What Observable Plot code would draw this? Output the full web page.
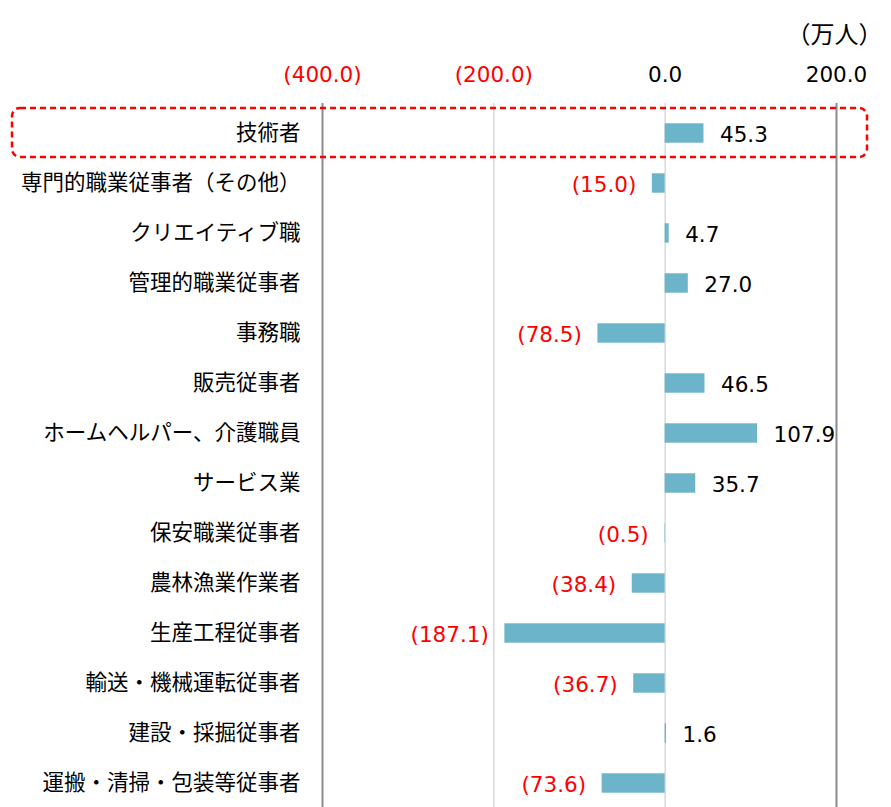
<!DOCTYPE html>
<html>
<head>
<meta charset="utf-8">
<script src="https://cdn.jsdelivr.net/npm/d3@7"></script>
<script src="https://cdn.jsdelivr.net/npm/@observablehq/plot@0.6"></script>
<style>
  html, body { margin: 0; padding: 0; background: #fff; overflow: hidden; }
  #chart svg { display: block; }
</style>
</head>
<body>
<div id="chart"></div>
<script>
const categories = [
  "技術者",
  "専門的職業従事者（その他）",
  "クリエイティブ職",
  "管理的職業従事者",
  "事務職",
  "販売従事者",
  "ホームヘルパー、介護職員",
  "サービス業",
  "保安職業従事者",
  "農林漁業作業者",
  "生産工程従事者",
  "輸送・機械運転従事者",
  "建設・採掘従事者",
  "運搬・清掃・包装等従事者"
];
const values = [45.3, -15.0, 4.7, 27.0, -78.5, 46.5, 107.9, 35.7, -0.5, -38.4, -187.1, -36.7, 1.6, -73.6];
const tickValues = [-400, -200, 0, 200];
const unitLabel = "（万人）";
const highlighted = "技術者";

const data = categories.map((c, i) => ({cat: c, value: values[i]}));
const fmt = v => v < 0 ? `(${d3.format(".1f")(-v)})` : d3.format(".1f")(v);
const numFont = "DejaVu Sans, Verdana, sans-serif";
const jpFont = "Noto Sans CJK JP, sans-serif";

const chart = Plot.plot({
  width: 891,
  height: 807,
  marginLeft: 322,
  marginRight: 55,
  marginTop: 103,
  marginBottom: 0,
  x: {domain: [-400, 200], axis: null},
  y: {domain: categories, padding: 0, axis: null, range: [103, 812.8]},
  marks: [
    Plot.ruleX(tickValues.filter(d => d === -200 || d === 0), {stroke: "#d9d9d9", strokeWidth: 1.5}),
    Plot.ruleX(tickValues.filter(d => d === -400 || d === 200), {stroke: "#8c8c8c", strokeWidth: 2}),
    Plot.barX(data, {x: "value", y: "cat", fill: "#6bb4c9", insetTop: 15.3, insetBottom: 15.3}),
    Plot.text(data.filter(d => d.value >= 0), {x: "value", y: "cat", text: d => fmt(d.value), textAnchor: "start", dx: 16, dy: 2, fill: "#000", fontSize: 21.5, fontFamily: numFont}),
    Plot.text(data.filter(d => d.value < 0), {x: "value", y: "cat", text: d => fmt(d.value), textAnchor: "end", dx: -16, dy: 2, fill: "#ff0000", fontSize: 21.5, fontFamily: numFont}),
    Plot.text(categories, {x: -400, y: d => d, text: d => d, textAnchor: "end", dx: -22, fill: "#000", fontSize: 21.5, fontFamily: jpFont}),
    Plot.text(tickValues, {x: d => d, frameAnchor: "top", lineAnchor: "middle", dy: -28, text: d => fmt(d), fill: d => d < 0 ? "#ff0000" : "#000", fontSize: 21.5, fontFamily: numFont}),
    Plot.text([unitLabel], {frameAnchor: "top-right", lineAnchor: "middle", textAnchor: "end", dx: 46, dy: -68, text: d => d, fill: "#000", fontSize: 24, fontFamily: jpFont})
  ]
});

// Highlight box around the first row band
const ys = chart.scale("y");
const y0 = ys.apply(highlighted);
const bw = ys.bandwidth;
d3.select(chart).append("rect")
  .attr("x", 12).attr("y", y0)
  .attr("width", 855).attr("height", bw - 1)
  .attr("rx", 8).attr("ry", 8)
  .attr("fill", "none")
  .attr("stroke", "#ff0000")
  .attr("stroke-width", 2.5)
  .attr("stroke-dasharray", "6,4");

document.getElementById("chart").appendChild(chart);
</script>
</body>
</html>
